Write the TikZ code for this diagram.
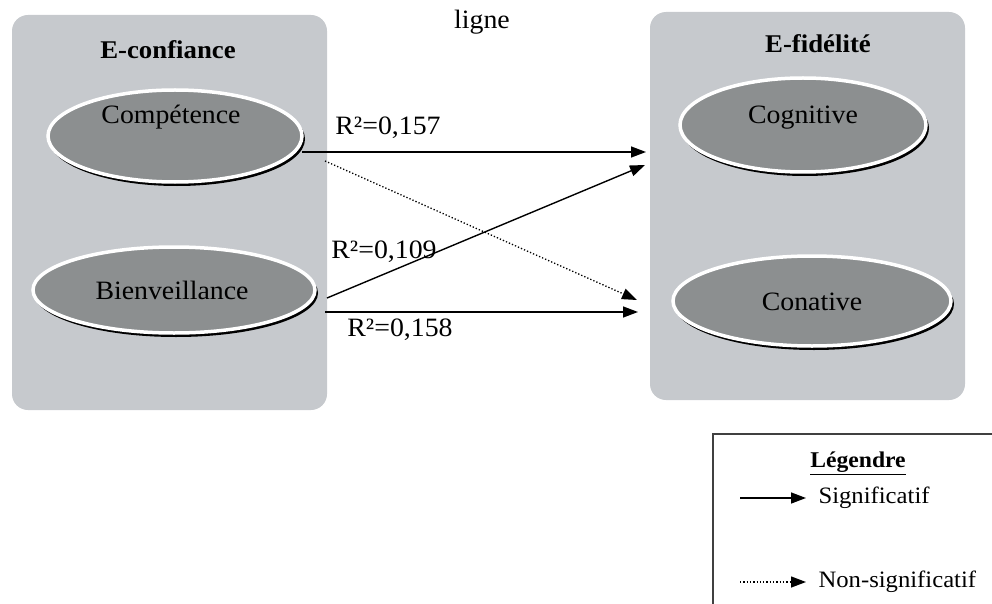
\documentclass[tikz,border=0pt]{standalone}
\usepackage{fontspec}
\setmainfont[FakeStretch=1.05]{Liberation Serif}
\usetikzlibrary{arrows.meta,shapes.geometric,calc}
\definecolor{boxgray}{RGB}{198,201,205}
\definecolor{ellgray}{RGB}{140,143,144}
\tikzset{
  grp/.style={fill=boxgray, draw=none, rounded corners=16pt},
  oval/.style={ellipse, fill=ellgray, draw=white, line width=3.5pt, inner sep=0pt},
  shadowoval/.style={ellipse, fill=black, draw=none, inner sep=0pt},
  big/.style={font=\fontsize{26.5}{30}\selectfont},
  ttl/.style={font=\fontsize{25.5}{28}\selectfont\bfseries},
  sig/.style={line width=1.4pt, -{Triangle[length=15pt,width=11pt]}},
  nsig/.style={line width=1.3pt, dotted, -{Triangle[length=15pt,width=11pt]}},
  lgd/.style={font=\fontsize{23.5}{27}\selectfont, anchor=west},
}
\begin{document}
\begin{tikzpicture}[x=1pt,y=-1pt]
\useasboundingbox (0,0) rectangle (992,604);
% group boxes
\node[grp, minimum width=315pt, minimum height=395pt] (conf) at (169.5,212.5) {};
\node[grp, minimum width=315pt, minimum height=388pt] (fid) at (807.5,206) {};
\node[ttl] (tconf) at (168,50) {E-confiance};
\node[ttl] (tfid) at (818,44) {E-fidélité};
\node[big] (ligne) at (482,22) {ligne};
% ellipses with shadows
\node[shadowoval, minimum width=256pt, minimum height=94pt] (s1) at (177,139) {};
\node[oval, minimum width=254pt, minimum height=92pt] (comp) at (175,136) {};
\node[big] (tcomp) at (171,117) {Compétence};
\node[shadowoval, minimum width=284pt, minimum height=88pt] (s2) at (176,293) {};
\node[oval, minimum width=282pt, minimum height=86pt] (bien) at (174,290) {};
\node[big] (tbien) at (172,290) {Bienveillance};
\node[shadowoval, minimum width=248pt, minimum height=96pt] (s3) at (805,128) {};
\node[oval, minimum width=246pt, minimum height=94pt] (cog) at (803,125) {};
\node[big] (tcog) at (803,118) {Cognitive};
\node[shadowoval, minimum width=280pt, minimum height=92pt] (s4) at (814,304) {};
\node[oval, minimum width=278pt, minimum height=90pt] (con) at (812,301) {};
\node[big] (tcon) at (812,302) {Conative};
% connector end points
\coordinate (a1) at (302,152);
\coordinate (b1) at (646,152);
\coordinate (a2) at (325,161);
\coordinate (b2) at (637,300);
\coordinate (a3) at (327,298);
\coordinate (b3) at (645,165);
\coordinate (a4) at (325,312);
\coordinate (b4) at (638,312);
\draw[sig] (a1) -- (b1);
\draw[nsig] (a2) -- (b2);
\draw[sig] (a3) -- (b3);
\draw[sig] (a4) -- (b4);
\node[big] (r1) at (388,128) {R²=0,157};
\node[big] (r2) at (384,252) {R²=0,109};
\node[big] (r3) at (400,330) {R²=0,158};
% legend
\coordinate (lg1) at (713,610);
\coordinate (lg2) at (713,434);
\coordinate (lg3) at (1000,434);
\draw[line width=1.5pt, draw=black!75] (lg1) -- (lg2) -- (lg3);
\node[font=\fontsize{22.5}{26}\selectfont\bfseries] (lt) at (858,463) {\underline{Légendre}};
\coordinate (l1a) at (740,498);
\coordinate (l1b) at (806,498);
\coordinate (l2a) at (740,582);
\coordinate (l2b) at (806,582);
\draw[sig] (l1a) -- (l1b);
\draw[nsig] (l2a) -- (l2b);
\node[lgd] (ls) at (815,498) {Significatif};
\node[lgd] (ln) at (815,582) {Non-significatif};
\end{tikzpicture}
\end{document}
